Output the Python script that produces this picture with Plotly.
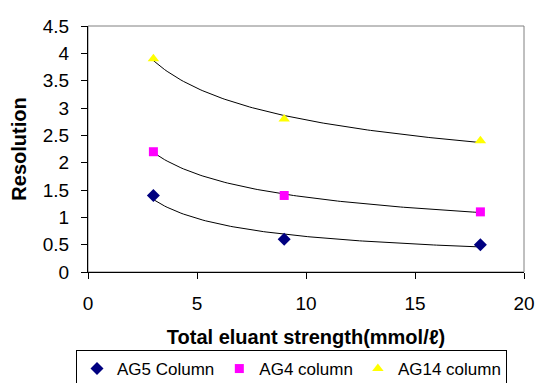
import numpy as np
import plotly.graph_objects as go

# Data
x_vals = [3, 9, 18]
ag5 = [1.4, 0.6, 0.5]
ag4 = [2.2, 1.4, 1.1]
ag14 = [3.9, 2.8, 2.4]
series_names = ["AG5 Column", "AG4 column", "AG14 column"]
x_ticks = [0, 5, 10, 15, 20]
y_ticks = [0, 0.5, 1, 1.5, 2, 2.5, 3, 3.5, 4, 4.5]

FONT = "Arial, Liberation Sans, sans-serif"
W, H = 537, 383

def power_fit(x, y):
    b, ln_a = np.polyfit(np.log(x), np.log(y), 1)
    xs = np.linspace(min(x), max(x), 120)
    return xs, np.exp(ln_a) * xs ** b

fig = go.Figure()

styles = [
    dict(symbol="diamond", color="#000080", size=10),
    dict(symbol="square", color="#FF00FF", size=9),
    dict(symbol="triangle-up", color="#FFFF00", size=10),
]

for ys in [ag5, ag4, ag14]:
    fx, fy = power_fit(x_vals, ys)
    fig.add_trace(go.Scatter(x=fx, y=fy, mode="lines",
                             line=dict(color="black", width=1),
                             showlegend=False, hoverinfo="skip"))

for name, ys, st in zip(series_names, [ag5, ag4, ag14], styles):
    fig.add_trace(go.Scatter(x=x_vals, y=ys, mode="markers", name=name,
                             marker=dict(symbol=st["symbol"], color=st["color"],
                                         size=st["size"], line=dict(width=0))))

# gray plot-area border (top/right)
fig.add_shape(type="rect", xref="paper", yref="paper", x0=0, y0=0, x1=1, y1=1,
              line=dict(color="#808080", width=1), layer="below")

fig.update_layout(
    width=W, height=H,
    margin=dict(l=88, r=13, t=26, b=111, autoexpand=False),
    paper_bgcolor="white", plot_bgcolor="white",
    font=dict(family=FONT, color="black", size=18),
    showlegend=True,
    legend=dict(orientation="h", xref="container", yref="container",
                x=76 / W, xanchor="left", y=(H - 350) / H, yanchor="top",
                bordercolor="black", borderwidth=1, font=dict(size=17),
                itemwidth=30, tracegroupgap=0),
    xaxis=dict(range=[0, 20], tickvals=x_ticks, showgrid=False, zeroline=False,
               showline=True, linecolor="black", linewidth=1, automargin=False,
               ticks="outside", ticklen=6, tickcolor="black",
               ticklabelstandoff=8, tickfont=dict(size=19),
               title=dict(text="<b>Total eluant strength(mmol/ℓ)</b>",
                          font=dict(size=20), standoff=17)),
    yaxis=dict(range=[0, 4.5], tickvals=y_ticks, showgrid=False, zeroline=False,
               showline=True, linecolor="black", linewidth=1, automargin=False,
               ticks="outside", ticklen=6, tickcolor="black",
               ticklabelstandoff=8, tickfont=dict(size=19),
               title=dict(text="<b>Resolution</b>", font=dict(size=20), standoff=10)),
)

fig.write_html("out.html", config={"displayModeBar": False},
               post_script="document.body.style.margin='0';")
